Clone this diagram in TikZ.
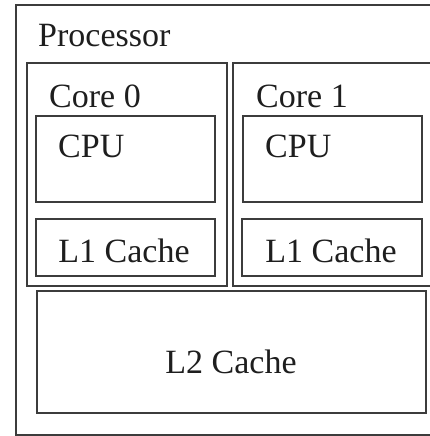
\documentclass[tikz,border=0pt]{standalone}
\usepackage{fontspec}
\setmainfont{Liberation Serif}
\definecolor{boxline}{HTML}{3C3C3C}
\definecolor{txt}{HTML}{1E1E1E}
\begin{document}
\begin{tikzpicture}[x=1pt,y=-1pt,
  box/.style={draw=boxline,line width=1.6pt},
  lbl/.style={anchor=base west,inner sep=0pt,text=txt,font=\fontsize{34}{40}\selectfont},
  clbl/.style={anchor=base,inner sep=0pt,text=txt,font=\fontsize{34}{40}\selectfont}]
\useasboundingbox (0,0) rectangle (430,436);
\clip (0,0) rectangle (430,436);
\fill[white] (0,0) rectangle (430,436);
% boxes
\draw[box] (16,5) rectangle (450,435);
\coordinate (proc) at (16,5);
\draw[box] (27,63) rectangle (227,286);
\draw[box] (233,63) rectangle (450,286);
\draw[box] (36,116) rectangle (215,202);
\draw[box] (243,116) rectangle (422,202);
\draw[box] (36,219) rectangle (215,276);
\draw[box] (242,219) rectangle (422,276);
\draw[box] (37,291) rectangle (426,413);
% labels
\node[lbl] (tproc) at (38,47) {Processor};
\node[lbl] (tcore0) at (49,107) {Core 0};
\node[lbl] (tcore1) at (256,107) {Core 1};
\node[lbl] (tcpu0) at (58,157) {CPU};
\node[lbl] (tcpu1) at (265,157) {CPU};
\node[clbl] (tl10) at (124,262) {L1 Cache};
\node[clbl] (tl11) at (331,262) {L1 Cache};
\node[clbl] (tl2) at (231,373) {L2 Cache};
\end{tikzpicture}
\end{document}
